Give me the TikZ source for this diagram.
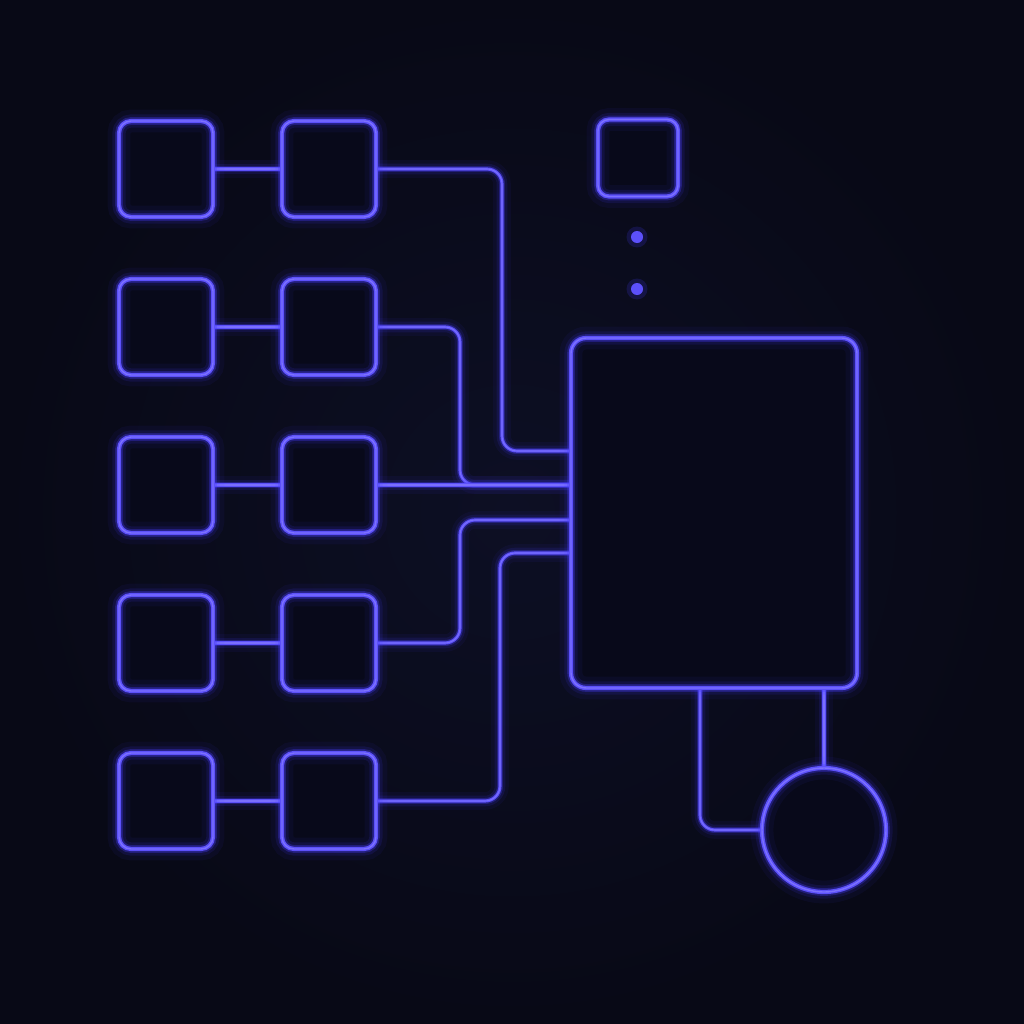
\documentclass[tikz,border=0pt]{standalone}
\usetikzlibrary{calc}
\definecolor{bg}{RGB}{8,9,22}
\definecolor{bgc}{RGB}{13,15,36}
\definecolor{neon}{RGB}{92,80,250}
\definecolor{neonhi}{RGB}{135,125,255}
\definecolor{glow}{RGB}{70,60,255}
\definecolor{boxfill}{RGB}{8,9,26}
\pgfdeclarelayer{back}
\pgfdeclarelayer{wires}
\pgfsetlayers{back,wires,main}
\tikzset{
  wire/.style={rounded corners=0.3cm,
    preaction={draw=glow, line width=10pt, draw opacity=0.06},
    preaction={draw=glow, line width=6pt, draw opacity=0.12},
    preaction={draw=glow, line width=3.4pt, draw opacity=0.3},
    draw=neon, line width=1.8pt,
    postaction={draw=neonhi, line width=0.6pt, draw opacity=0.7}},
  neonbox/.style={
    preaction={fill=boxfill},
    preaction={draw=glow, line width=13pt, draw opacity=0.06},
    preaction={draw=glow, line width=7.5pt, draw opacity=0.12},
    preaction={draw=glow, line width=4.4pt, draw opacity=0.3},
    draw=neon, line width=2.4pt,
    postaction={draw=neonhi, line width=0.8pt, draw opacity=0.75}},
  sbox/.style={rectangle, rounded corners=0.24cm, minimum width=1.88cm,
    minimum height=1.92cm, inner sep=0pt, neonbox},
  tbox/.style={rectangle, rounded corners=0.22cm, minimum width=1.6cm,
    minimum height=1.54cm, inner sep=0pt, neonbox},
  bigbox/.style={rectangle, rounded corners=0.3cm, minimum width=5.72cm,
    minimum height=7cm, inner sep=0pt, neonbox},
  ring/.style={circle, minimum size=2.48cm, inner sep=0pt, neonbox},
  dotn/.style={circle, minimum size=0.24cm, inner sep=0pt, fill=neon,
    preaction={fill=glow, fill opacity=0.2, draw=glow, draw opacity=0.18, line width=5pt}}
}
\begin{document}
\begin{tikzpicture}[x=0.02cm, y=-0.02cm]
\useasboundingbox (0,0) rectangle (1024,1024);
\begin{pgfonlayer}{back}
\fill[bg] (0,0) rectangle (1024,1024);
\shade[inner color=bgc, outer color=bg] (0,0) rectangle (1024,1024);
\end{pgfonlayer}
% coordinates
\coordinate (j1) at (502,451);
\coordinate (j2) at (460,485);
\coordinate (j4) at (460,520);
\coordinate (j5) at (500,553);
\coordinate (k1) at (700,828);
% nodes
\path
  (166,169) node[sbox] (b11) {}
  (329,169) node[sbox] (b12) {}
  (166,327) node[sbox] (b21) {}
  (329,327) node[sbox] (b22) {}
  (166,485) node[sbox] (b31) {}
  (329,485) node[sbox] (b32) {}
  (166,643) node[sbox] (b41) {}
  (329,643) node[sbox] (b42) {}
  (166,801) node[sbox] (b51) {}
  (329,801) node[sbox] (b52) {};
\path (714,513) node[bigbox] (big) {};
\path (824,830) node[ring] (circ) {};
\path (638,158) node[tbox] (top) {};
\path (637,237) node[dotn] (d1) {};
\path (637,289) node[dotn] (d2) {};
% wires
\begin{pgfonlayer}{wires}
\draw[wire] (b11.east) -- (b12.west);
\draw[wire] (b21.east) -- (b22.west);
\draw[wire] (b31.east) -- (b32.west);
\draw[wire] (b41.east) -- (b42.west);
\draw[wire] (b51.east) -- (b52.west);
\draw[wire] (b12.east) -| (j1) -- (big.west |- j1);
\draw[wire] (b22.east) -| (j2) -- (big.west |- j2);
\draw[wire] (b32.east) -- (big.west |- b32.east);
\draw[wire] (b42.east) -| (j4) -- (big.west |- j4);
\draw[wire] (b52.east) -| (j5) -- (big.west |- j5);
\draw[wire] (big.south -| k1) |- (circ.west);
\draw[wire] (circ.north) -- (big.south -| circ.north);
\end{pgfonlayer}
\end{tikzpicture}
\end{document}
